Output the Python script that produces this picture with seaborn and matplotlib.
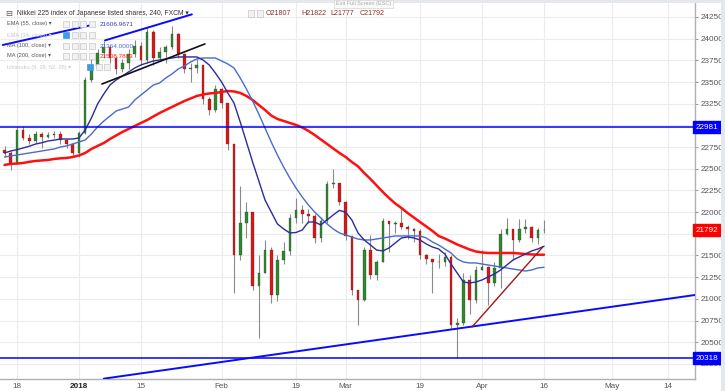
import numpy as np
import pandas as pd
import matplotlib
matplotlib.use("Agg")
import matplotlib.pyplot as plt
import seaborn as sns
from matplotlib.patches import Rectangle

# daily candles (Dec 14 2017 .. Apr 13 2018)
first_open = 22720
closes = [22680, 22560, 22950, 22850, 22820, 22900, 22870, 22890, 22900, 22830,
          22790, 22680, 22910, 23520, 23690, 23830, 23900, 23780, 23650, 23720,
          23820, 23920, 23750, 24080, 23780, 23850, 23900, 24050, 23820, 23650,
          23660, 23700, 23300, 23180, 23420, 23260, 22780, 21500, 21880, 22000,
          21150, 21300, 21560, 21050, 21450, 21550, 21930, 22020, 21980, 21950,
          21700, 21900, 22320, 22330, 22120, 21720, 21100, 20990, 21560, 21280,
          21420, 21900, 21860, 21870, 21830, 21800, 21780, 21500, 21460, 21420,
          21420, 21480, 20700, 20720, 21220, 20990, 21330, 21370, 21180, 21360,
          21750, 21800, 21680, 21800, 21830, 21700, 21790, 21792]
highs = [22760, 22700, 22990, 22990, 22900, 22930, 22920, 22920, 22930, 22930,
         22840, 22800, 22930, 23560, 23760, 23880, 23970, 23920, 23790, 23770,
         23880, 23990, 23960, 24130, 24100, 23900, 23930, 24150, 24060, 23830,
         23720, 23760, 23700, 23330, 23470, 23430, 23250, 22780, 22300, 22120,
         22000, 21500, 21680, 21600, 21500, 21650, 21980, 22160, 22080, 22040,
         21980, 21940, 22360, 22500, 22320, 22130, 21720, 21100, 21600, 21740,
         21450, 21930, 21900, 21900, 22050, 21850, 21820, 21800, 21520, 21460,
         21520, 21540, 21500, 20780, 21300, 21280, 21380, 21560, 21380, 21420,
         21800, 21930, 21800, 21920, 21920, 21840, 21820, 21910]
lows = [22640, 22480, 22550, 22830, 22790, 22800, 22740, 22850, 22860, 22780,
        22740, 22640, 22630, 22900, 23500, 23650, 23780, 23720, 23590, 23620,
        23650, 23790, 23700, 23720, 23700, 23740, 23720, 23880, 23780, 23600,
        23500, 23600, 23250, 23120, 23150, 23200, 22720, 21070, 21450, 21700,
        21100, 20550, 21300, 20950, 20980, 21400, 21500, 21880, 21880, 21880,
        21640, 21650, 21880, 22280, 22080, 21680, 21050, 20700, 20980, 21230,
        21220, 21420, 21540, 21760, 21800, 21690, 21650, 21460, 21400, 21070,
        21350, 21380, 20650, 20320, 20700, 20820, 20950, 21330, 20930, 21150,
        21130, 21740, 21450, 21650, 21760, 21660, 21630, 21760]

ema55 = [22682, 22705, 22720, 22740, 22760, 22785, 22800, 22820, 22830, 22843,
         22843, 22843, 22855, 22947, 23085, 23247, 23362, 23466, 23524, 23570,
         23616, 23662, 23697, 23720, 23743, 23754, 23766, 23777, 23789, 23789,
         23789, 23789, 23754, 23697, 23604, 23500, 23374, 23258, 23040, 22810,
         22578, 22360, 22140, 22002, 21864, 21806, 21760, 21765, 21794, 21886,
         21886, 21852, 21910, 21967, 22020, 22000, 21910, 21760, 21679, 21621,
         21563, 21552, 21587, 21644, 21702, 21713, 21702, 21679, 21633, 21598,
         21575, 21517, 21402, 21298, 21194, 21183, 21194, 21218, 21252, 21287,
         21333, 21390, 21448, 21483, 21517, 21552, 21575, 21607]
ma100 = [22636, 22647, 22659, 22670, 22682, 22693, 22705, 22717, 22728, 22751,
         22763, 22786, 22809, 22832, 22900, 22982, 23050, 23108, 23166, 23189,
         23212, 23293, 23351, 23408, 23466, 23489, 23547, 23593, 23650, 23685,
         23731, 23766, 23777, 23777, 23777, 23743, 23708, 23662, 23547, 23420,
         23281, 23131, 22970, 22809, 22659, 22520, 22394, 22278, 22175, 22082,
         22002, 21933, 21864, 21806, 21760, 21737, 21713, 21690, 21679, 21679,
         21690, 21702, 21713, 21725, 21725, 21725, 21725, 21725, 21702, 21656,
         21621, 21575, 21529, 21460, 21425, 21414, 21414, 21402, 21390, 21379,
         21367, 21356, 21344, 21333, 21321, 21333, 21356, 21364]
ma200 = [22544, 22556, 22560, 22567, 22580, 22590, 22596, 22601, 22613, 22620,
         22624, 22636, 22653, 22682, 22728, 22763, 22797, 22843, 22884, 22924,
         22959, 22993, 23028, 23062, 23103, 23143, 23178, 23212, 23247, 23281,
         23310, 23339, 23356, 23368, 23374, 23385, 23397, 23391, 23374, 23339,
         23293, 23235, 23178, 23114, 23074, 23051, 23028, 23005, 22976, 22936,
         22890, 22838, 22786, 22734, 22682, 22636, 22578, 22527, 22451, 22382,
         22307, 22232, 22163, 22100, 22048, 21990, 21938, 21886, 21835, 21783,
         21725, 21696, 21662, 21627, 21598, 21569, 21546, 21535, 21529, 21529,
         21529, 21529, 21529, 21523, 21517, 21512, 21509, 21509]

# drawn lines: (business-day offset from Dec 18, price)
channel_top = ([14.2, 28.2], [23980, 24280])
legend_line = ([-2.3, 12.1], [23927, 24158])
black_line = ([13.7, 30.3], [23477, 23939])
support_line = ([14.0, 109.4], [20080, 21045])
red_trend = ([73.4, 84.8], [20676, 21598])
resistance = 22981
floor_level = 20318
last_close = 21792

tick_dates = ["2017-12-18", "2018-01-01", "2018-01-15", "2018-02-01", "2018-02-19",
              "2018-03-01", "2018-03-19", "2018-04-02", "2018-04-16", "2018-05-01",
              "2018-05-14"]
tick_labels = ["18", "2018", "15", "Feb", "19", "Mar", "19", "Apr", "16", "May", "14"]
price_ticks = list(range(20250, 24251, 250))

W, H = 725, 391
sns.set_theme(style="white")
plt.rcParams["font.family"] = ["Liberation Sans", "DejaVu Sans"]

fig = plt.figure(figsize=(W / 100, H / 100), dpi=100, facecolor="white")
ax = fig.add_axes([0, 12 / H, 695 / W, 376 / H])

dates = pd.bdate_range("2017-12-14", periods=len(closes))
day = np.busday_count(np.datetime64("2017-12-18"), dates.values.astype("datetime64[D]"))

c = np.array(closes, dtype=float)
o = np.concatenate([[first_open], c[:-1]])
h = np.maximum(np.array(highs, dtype=float), np.maximum(o, c))
l = np.minimum(np.array(lows, dtype=float), np.minimum(o, c))
up = c >= o

ax.vlines(day, l, h, color="#8a8a8a", lw=0.8, zorder=2)
body = np.where(np.abs(c - o) < 8, 8, np.abs(c - o))
ax.bar(day, body, bottom=np.minimum(o, c), width=0.42,
       color=np.where(up, "#2b8a2b", "#e01414"), edgecolor="#333333",
       linewidth=0.2, zorder=3)

sns.lineplot(x=day, y=ma200, ax=ax, color="#ff1010", lw=1.8, zorder=4)
sns.lineplot(x=day, y=ma100, ax=ax, color="#4a6cc8", lw=1.0, zorder=4)
sns.lineplot(x=day, y=ema55, ax=ax, color="#2c2c9a", lw=1.0, zorder=4)

ax.axhline(resistance, color="#0000ff", lw=1.1, zorder=5)
ax.axhline(floor_level, color="#0000ff", lw=1.1, zorder=5)
ax.plot(*support_line, color="#0a0aff", lw=1.4, zorder=5)
ax.plot(*channel_top, color="#0a0aff", lw=1.4, zorder=5)
ax.plot(*legend_line, color="#0a0aff", lw=1.4, zorder=5)
ax.plot(*black_line, color="#111111", lw=1.2, zorder=5)
ax.plot(*red_trend, color="#a01818", lw=1.0, zorder=5)

ax.set_xlim(-2.74, 109.35)
ax.set_ylim(20076, 24411)

tick_pos = np.busday_count(np.datetime64("2017-12-18"),
                           np.array(tick_dates, dtype="datetime64[D]"))
ax.set_xticks(tick_pos)
ax.set_xticklabels(tick_labels)
ax.set_yticks(price_ticks)
ax.set_yticklabels([str(v) for v in price_ticks])
ax.yaxis.tick_right()
ax.grid(True, color="#ececec", lw=0.8, zorder=0)
ax.set_axisbelow(True)
for s in ["top", "left"]:
    ax.spines[s].set_visible(False)
for s in ["right", "bottom"]:
    ax.spines[s].set_color("#b0b0b0")
    ax.spines[s].set_linewidth(1.0)
ax.tick_params(axis="both", labelsize=5.9, colors="#888888", labelcolor="#555555",
               length=2.5, width=0.6, pad=1.2, direction="out")
ax.tick_params(axis="x", length=2, pad=0.6)
for t in ax.get_xticklabels():
    if t.get_text() == "2018":
        t.set_color("#222222")
        t.set_fontweight("bold")
ax.set_xlabel("")
ax.set_ylabel("")

# price boxes on the scale
for val, col in [(resistance, "#0000ff"), (last_close, "#ff0000"), (floor_level, "#0000ff")]:
    ax.annotate(str(val), xy=(1.0, val), xycoords=("axes fraction", "data"),
                xytext=(0.5, 0), textcoords="offset points", ha="left", va="center",
                fontsize=5.9, color="white", zorder=10, annotation_clip=False,
                bbox=dict(boxstyle="square,pad=0.3", fc=col, ec=col))


def fx(x, y):
    return x / W, 1 - y / H


# frame strips
fig.patches.append(Rectangle(fx(0, 3), 1, 3 / H, transform=fig.transFigure,
                             fc="#e4e7eb", ec="none", zorder=0))
fig.patches.append(Rectangle(fx(721, H), 4 / W, 1, transform=fig.transFigure,
                             fc="#e4e7eb", ec="none", zorder=0))

# header
fig.text(*fx(5, 14), "\u229f", fontsize=6, color="#555555", va="center",
         family=["DejaVu Sans"])
fig.text(*fx(17, 13.5), "Nikkei 225 index of Japanese listed shares, 240, FXCM \u25be",
         fontsize=4.9, color="#333333", va="center")
ohlc = ["O21807", "H21822", "L21777", "C21792"]
for xx, s in zip([266, 301, 330, 360], ohlc):
    fig.text(*fx(xx, 13.5), s, fontsize=5.1, color="#8b2c2c", va="center")


def icons(x0, y, n, hl=False, step=8.5):
    for k in range(n):
        fc = "#3d9be9" if (hl and k == 0) else "#f2f2f2"
        ec = "#3d9be9" if (hl and k == 0) else "#c8c8c8"
        fig.patches.append(Rectangle(fx(x0 + k * step, y + 3), 6 / W, 6 / H,
                                     transform=fig.transFigure, fc=fc, ec=ec,
                                     lw=0.5, zorder=20))


icons(248, 13.5, 2)
rows = [("EMA (55, close) \u25be", 24, "#555555", "21606.9671", "#3a3aa8", False),
        ("EMA (34, close) \u25be", 35, "#c8c8c8", "", None, True),
        ("MA (100, close) \u25be", 46, "#555555", "21364.0000", "#4a6cc8", False),
        ("MA (200, close) \u25be", 56, "#555555", "21508.7803", "#ff2020", False)]
for label, y, col, val, vcol, hl in rows:
    fig.text(*fx(7, y), label, fontsize=4.1, color=col, va="center", zorder=21)
    icons(63, y, 4, hl)
    if val:
        fig.text(*fx(100, y), val, fontsize=4.6, color=vcol, va="center", zorder=21)
fig.text(*fx(7, 67), "Ichimoku (9, 26, 52, 26) \u25be", fontsize=4.1, color="#c8c8c8",
         va="center", zorder=21)
icons(87, 67, 3, True)

# tooltip
fig.text(*fx(336, 4), "Exit Full Screen (ESC)", fontsize=4.0, color="#aaaaaa",
         va="center", zorder=22,
         bbox=dict(boxstyle="square,pad=0.3", fc="#fafafa", ec="#d5d5d5", lw=0.5))

fig.savefig("out.png", dpi=100, facecolor=fig.get_facecolor())
